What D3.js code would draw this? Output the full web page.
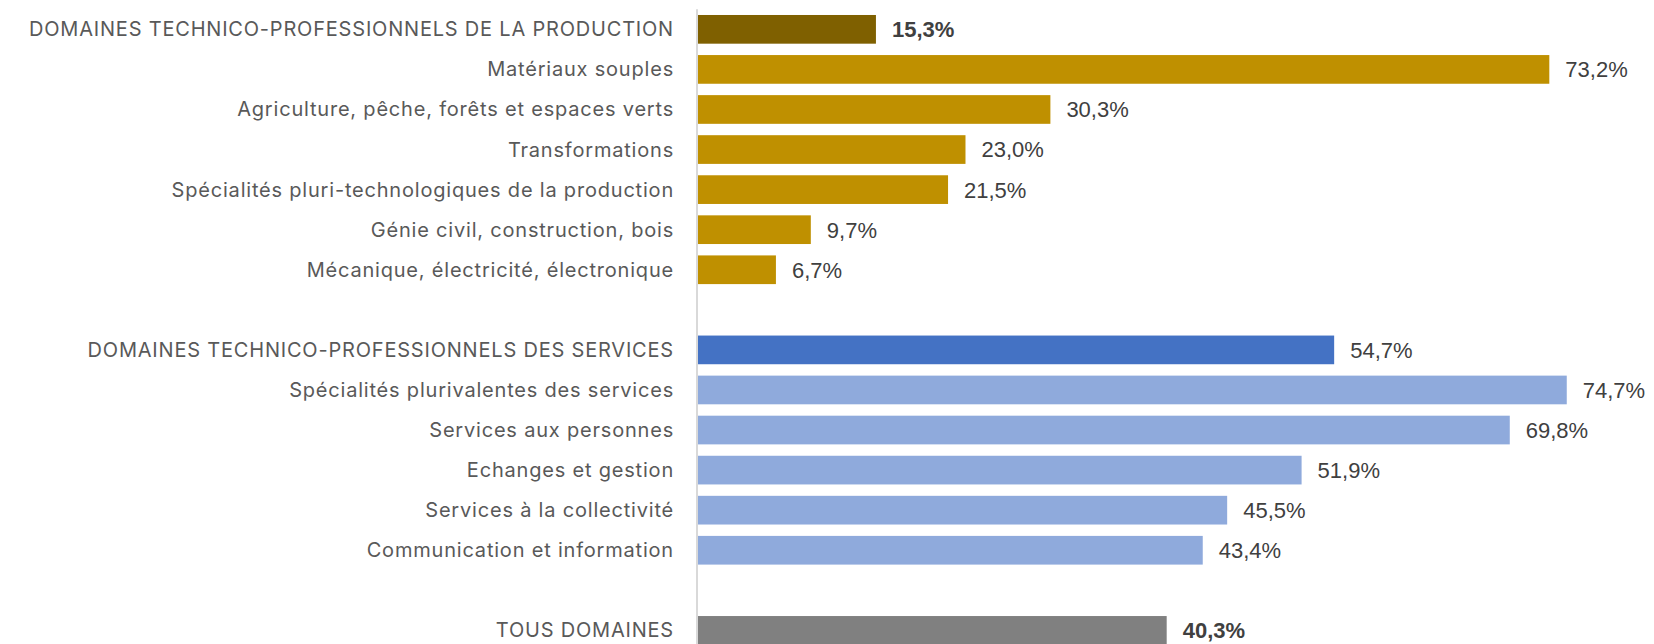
<!DOCTYPE html>
<html>
<head>
<meta charset="utf-8">
<script src="https://cdn.jsdelivr.net/npm/d3@7"></script>
<style>
  body { margin: 0; background: #fff; }
  svg { display: block; }
</style>
</head>
<body>
<svg id="chart" width="1654" height="644"></svg>
<script>
// Data

var prodLabels = [
  "DOMAINES TECHNICO-PROFESSIONNELS DE LA PRODUCTION",
  "Matériaux souples",
  "Agriculture, pêche, forêts et espaces verts",
  "Transformations",
  "Spécialités pluri-technologiques de la production",
  "Génie civil, construction, bois",
  "Mécanique, électricité, électronique"
];
var prodValues = [15.3, 73.2, 30.3, 23.0, 21.5, 9.7, 6.7];

var servLabels = [
  "DOMAINES TECHNICO-PROFESSIONNELS DES SERVICES",
  "Spécialités plurivalentes des services",
  "Services aux personnes",
  "Echanges et gestion",
  "Services à la collectivité",
  "Communication et information"
];
var servValues = [54.7, 74.7, 69.8, 51.9, 45.5, 43.4];

var totalLabels = ["TOUS DOMAINES"];
var totalValues = [40.3];

// build rows, with an empty slot between groups
var rows = [];
prodLabels.forEach(function(l, i) {
  rows.push({label: l, value: prodValues[i], color: i == 0 ? "#7f6000" : "#bf9000", bold: i == 0});
});
rows.push(null);
servLabels.forEach(function(l, i) {
  rows.push({label: l, value: servValues[i], color: i == 0 ? "#4472c4" : "#8faadc", bold: false});
});
rows.push(null);
totalLabels.forEach(function(l, i) {
  rows.push({label: l, value: totalValues[i], color: "#808080", bold: true});
});

var W = 1654, H = 644;
var STEP = 40.07;
var TOP = 9.3;

var svg = d3.select("#chart");

var x = d3.scaleLinear().domain([0, 80]).range([698, 698 + 80 * 11.63]);
var y = d3.scaleBand()
  .domain(d3.range(rows.length))
  .range([TOP, TOP + rows.length * STEP])
  .paddingInner(0.284)
  .paddingOuter(0.142);

var data = rows.map(function(r, i) { return r ? Object.assign({i: i}, r) : null; })
  .filter(function(r) { return r; });

// bars
svg.append("g").selectAll("rect").data(data).enter().append("rect")
  .attr("x", x(0))
  .attr("y", function(d) { return y(d.i); })
  .attr("width", function(d) { return x(d.value) - x(0); })
  .attr("height", y.bandwidth())
  .attr("fill", function(d) { return d.color; });

// vertical axis line
svg.append("line")
  .attr("x1", x(0) - 1).attr("x2", x(0) - 1)
  .attr("y1", TOP).attr("y2", H)
  .attr("stroke", "#d9d9d9")
  .attr("stroke-width", 2);

// category labels (letter-spacing to get closer to the wider original font)
svg.append("g").selectAll("text").data(data).enter().append("text")
  .attr("x", x(0) - 24)
  .attr("y", function(d) { return y(d.i) + y.bandwidth() / 2; })
  .attr("dy", "0.35em")
  .attr("text-anchor", "end")
  .attr("font-family", "Inter, sans-serif")
  .attr("font-size", 20)
  .attr("letter-spacing", 0.8)
  .attr("fill", "#595959")
  .text(function(d) { return d.label; });

// value labels
var fmt = function(v) { return v.toFixed(1).replace(".", ",") + "%"; };
svg.append("g").selectAll("text").data(data).enter().append("text")
  .attr("x", function(d) { return x(d.value) + 16; })
  .attr("y", function(d) { return y(d.i) + y.bandwidth() / 2; })
  .attr("dy", "0.36em")
  .attr("font-family", "'Liberation Sans', Arial, sans-serif")
  .attr("font-size", 22)
  .attr("font-weight", function(d) { return d.bold ? "bold" : "normal"; })
  .attr("fill", "#404040")
  .text(function(d) { return fmt(d.value); });
</script>
</body>
</html>
